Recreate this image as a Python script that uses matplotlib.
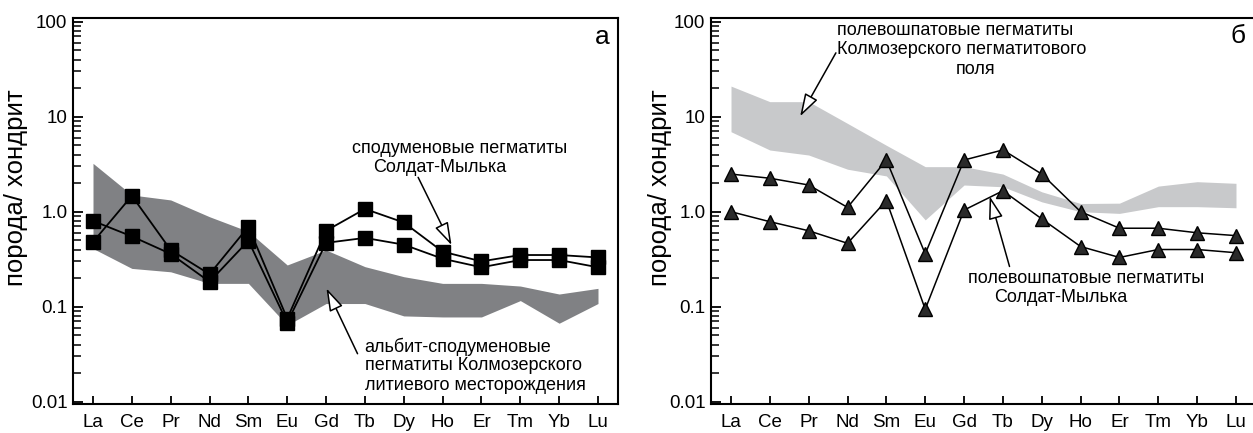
import matplotlib
matplotlib.use("Agg")
import matplotlib.pyplot as plt
from matplotlib.ticker import FixedLocator, FixedFormatter, LogLocator, NullFormatter

plt.rcParams['font.family'] = ['Liberation Sans', 'DejaVu Sans']

# ---- данные ----
elements = ['La', 'Ce', 'Pr', 'Nd', 'Sm', 'Eu', 'Gd', 'Tb', 'Dy', 'Ho', 'Er', 'Tm', 'Yb', 'Lu']

# (а) сподуменовые пегматиты Солдат-Мылька
spod_1 = [0.48, 1.47, 0.395, 0.22, 0.695, 0.075, 0.63, 1.07, 0.77, 0.38, 0.30, 0.35, 0.35, 0.33]
spod_2 = [0.80, 0.55, 0.36, 0.183, 0.495, 0.068, 0.47, 0.53, 0.45, 0.32, 0.26, 0.31, 0.31, 0.26]
# (а) поле альбит-сподуменовых пегматитов
band_a_top = [3.23, 1.5, 1.33, 0.885, 0.62, 0.275, 0.395, 0.264, 0.207, 0.176, 0.176, 0.165, 0.136, 0.156]
band_a_bot = [0.41, 0.253, 0.233, 0.176, 0.176, 0.064, 0.108, 0.108, 0.08, 0.078, 0.078, 0.116, 0.067, 0.108]

# (б) полевошпатовые пегматиты Солдат-Мылька
feld_1 = [2.49, 2.25, 1.91, 1.11, 3.5, 0.36, 3.5, 4.47, 2.49, 1.0, 0.67, 0.67, 0.60, 0.56]
feld_2 = [1.0, 0.785, 0.63, 0.465, 1.31, 0.094, 1.04, 1.66, 0.84, 0.43, 0.33, 0.40, 0.40, 0.37]
# (б) поле полевошпатовых пегматитов Колмозерского поля
band_b_top = [21.0, 14.4, 14.4, 8.5, 5.0, 2.98, 2.98, 2.49, 1.62, 1.22, 1.23, 1.86, 2.07, 1.99]
band_b_bot = [6.95, 4.46, 3.95, 2.8, 2.38, 0.82, 1.91, 1.83, 1.27, 1.0, 0.96, 1.13, 1.13, 1.1]

y_ticks = [0.01, 0.1, 1.0, 10, 100]
y_ticklabels = ['0.01', '0.1', '1.0', '10', '100']

x = list(range(len(elements)))

fig = plt.figure(figsize=(12.53, 4.33), dpi=100)
ax1 = fig.add_axes([73 / 1253, 29 / 433, 545 / 1253, 385.7 / 433])
ax2 = fig.add_axes([711 / 1253, 29 / 433, 545 / 1253, 385.7 / 433])

FS = 13  # подписи на графике


def setup(ax, label_x):
    ax.set_yscale('log')
    ax.set_ylim(0.00946, 108.6)
    ax.set_xlim(-0.515, 13.515)
    ax.yaxis.set_major_locator(FixedLocator(y_ticks))
    ax.yaxis.set_major_formatter(FixedFormatter(y_ticklabels))
    ax.yaxis.set_minor_locator(LogLocator(base=10, subs=range(2, 10)))
    ax.yaxis.set_minor_formatter(NullFormatter())
    ax.set_xticks(x)
    ax.set_xticklabels(elements)
    ax.tick_params(axis='y', which='major', direction='in', length=7, width=1.3,
                   labelsize=13.5, pad=4)
    ax.tick_params(axis='y', which='minor', direction='in', length=6, width=1.1)
    ax.tick_params(axis='x', direction='in', length=6, width=1.3, labelsize=13.5, pad=7)
    for s in ax.spines.values():
        s.set_linewidth(1.5)
    ax.set_ylabel('порода/ хондрит', fontsize=18.5)
    ax.yaxis.set_label_coords(label_x, 0.56)


def arrow(ax, tail, head):
    ax.annotate('', xy=head, xytext=tail,
                arrowprops=dict(arrowstyle='-|>,head_length=0.7,head_width=0.22',
                                mutation_scale=20, fc='white', ec='black', lw=1.1,
                                shrinkA=0, shrinkB=0), zorder=5)


# ---- (а) ----
setup(ax1, -0.083)
ax1.fill_between(x, band_a_bot, band_a_top, color='#808184', lw=0, zorder=1)
for s in (spod_1, spod_2):
    ax1.plot(x, s, color='black', lw=1.3, marker='s', ms=9.5,
             mfc='black', mec='black', zorder=3)
ax1.text(0.972, 0.952, 'а', transform=ax1.transAxes, fontsize=19, ha='center', va='center')

ax1.text(9.45, 4.6, 'сподуменовые пегматиты', fontsize=FS, ha='center', va='center')
ax1.text(8.93, 2.9, 'Солдат-Мылька', fontsize=FS, ha='center', va='center')
arrow(ax1, (8.37, 2.3), (9.23, 0.445))

ax1.text(6.99, 0.038, 'альбит-сподуменовые', fontsize=FS, ha='left', va='center')
ax1.text(6.99, 0.024, 'пегматиты Колмозерского', fontsize=FS, ha='left', va='center')
ax1.text(6.99, 0.0148, 'литиевого месторождения', fontsize=FS, ha='left', va='center')
arrow(ax1, (6.81, 0.032), (6.01, 0.156))

# ---- (б) ----
setup(ax2, -0.072)
ax2.fill_between(x, band_b_bot, band_b_top, color='#c8c9cb', lw=0, zorder=1)
for s in (feld_1, feld_2):
    ax2.plot(x, s, color='black', lw=1.1, marker='^', ms=10,
             mfc='#2a2a2a', mec='black', zorder=3)
ax2.text(0.967, 0.953, 'б', transform=ax2.transAxes, fontsize=19, ha='center', va='center')

ax2.text(2.73, 80, 'полевошпатовые пегматиты', fontsize=FS, ha='left', va='center')
ax2.text(2.73, 50.5, 'Колмозерского пегматитового', fontsize=FS, ha='left', va='center')
ax2.text(6.3, 31.5, 'поля', fontsize=FS, ha='center', va='center')
arrow(ax2, (2.70, 47), (1.78, 10.1))

ax2.text(9.14, 0.2, 'полевошпатовые пегматиты', fontsize=FS, ha='center', va='center')
ax2.text(8.5, 0.124, 'Солдат-Мылька', fontsize=FS, ha='center', va='center')
arrow(ax2, (7.17, 0.265), (6.66, 1.45))

fig.savefig('out.png', dpi=100)
